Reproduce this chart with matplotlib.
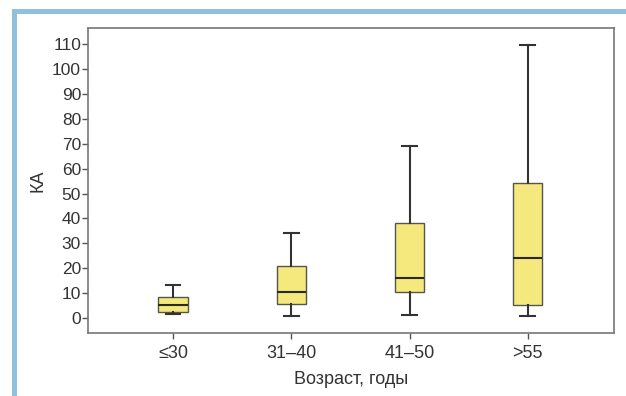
import matplotlib
matplotlib.use("Agg")
import matplotlib.pyplot as plt
from matplotlib.patches import Rectangle

categories = ["≤30", "31–40", "41–50", ">55"]
whisker_low = [1.6, 0.8, 1.3, 0.9]
q1 = [2.4, 5.6, 10.3, 5.2]
median = [5.2, 10.6, 16.2, 24.0]
q3 = [8.5, 20.9, 38.0, 54.1]
whisker_high = [13.2, 34.3, 69.2, 109.6]
yticks = list(range(0, 111, 10))

plt.rcParams['font.family'] = ['Liberation Sans', 'DejaVu Sans']

fig = plt.figure(figsize=(6.26, 3.96), dpi=100)
W, H = 626, 396
# light blue frame (left and top)
fig.patches.append(Rectangle((12 / W, 0), 5 / W, 1 - 9 / H, transform=fig.transFigure,
                             facecolor="#8fc0de", edgecolor="none"))
fig.patches.append(Rectangle((12 / W, 1 - 14 / H), 1 - 12 / W, 5 / H, transform=fig.transFigure,
                             facecolor="#8fc0de", edgecolor="none"))

ax = fig.add_axes([88 / W, 1 - 333 / H, (614 - 88) / W, (333 - 28) / H])

stats = []
for i, c in enumerate(categories):
    stats.append(dict(label=c, whislo=whisker_low[i], q1=q1[i], med=median[i],
                      q3=q3[i], whishi=whisker_high[i], fliers=[]))

ax.bxp(stats, positions=[1, 2, 3, 4], widths=0.25, patch_artist=True, showfliers=False,
       boxprops=dict(facecolor="#f5e87c", edgecolor="#55554a", linewidth=1.0),
       medianprops=dict(color="#2a2a22", linewidth=1.5),
       whiskerprops=dict(color="#333333", linewidth=1.5),
       capprops=dict(color="#333333", linewidth=1.5),
       capwidths=0.125)

ax.set_xlim(0.28, 4.73)
ax.set_ylim(-6, 116.5)
ax.set_yticks(yticks)
ax.set_yticklabels([str(v) for v in yticks], fontsize=12.5, color="#333333")
ax.set_xticks([1, 2, 3, 4])
ax.set_xticklabels(categories, fontsize=13, color="#333333")
ax.tick_params(axis='both', direction='out', length=4, width=1, color="#555555")
ax.tick_params(axis='x', pad=5)
ax.tick_params(axis='y', pad=1)
for s in ax.spines.values():
    s.set_color("#777777")
    s.set_linewidth(1.2)

ax.set_ylabel("КА", fontsize=13, color="#333333", labelpad=4)
ax.set_xlabel("Возраст, годы", fontsize=13, color="#333333", labelpad=6)

fig.savefig("out.png", dpi=100)
